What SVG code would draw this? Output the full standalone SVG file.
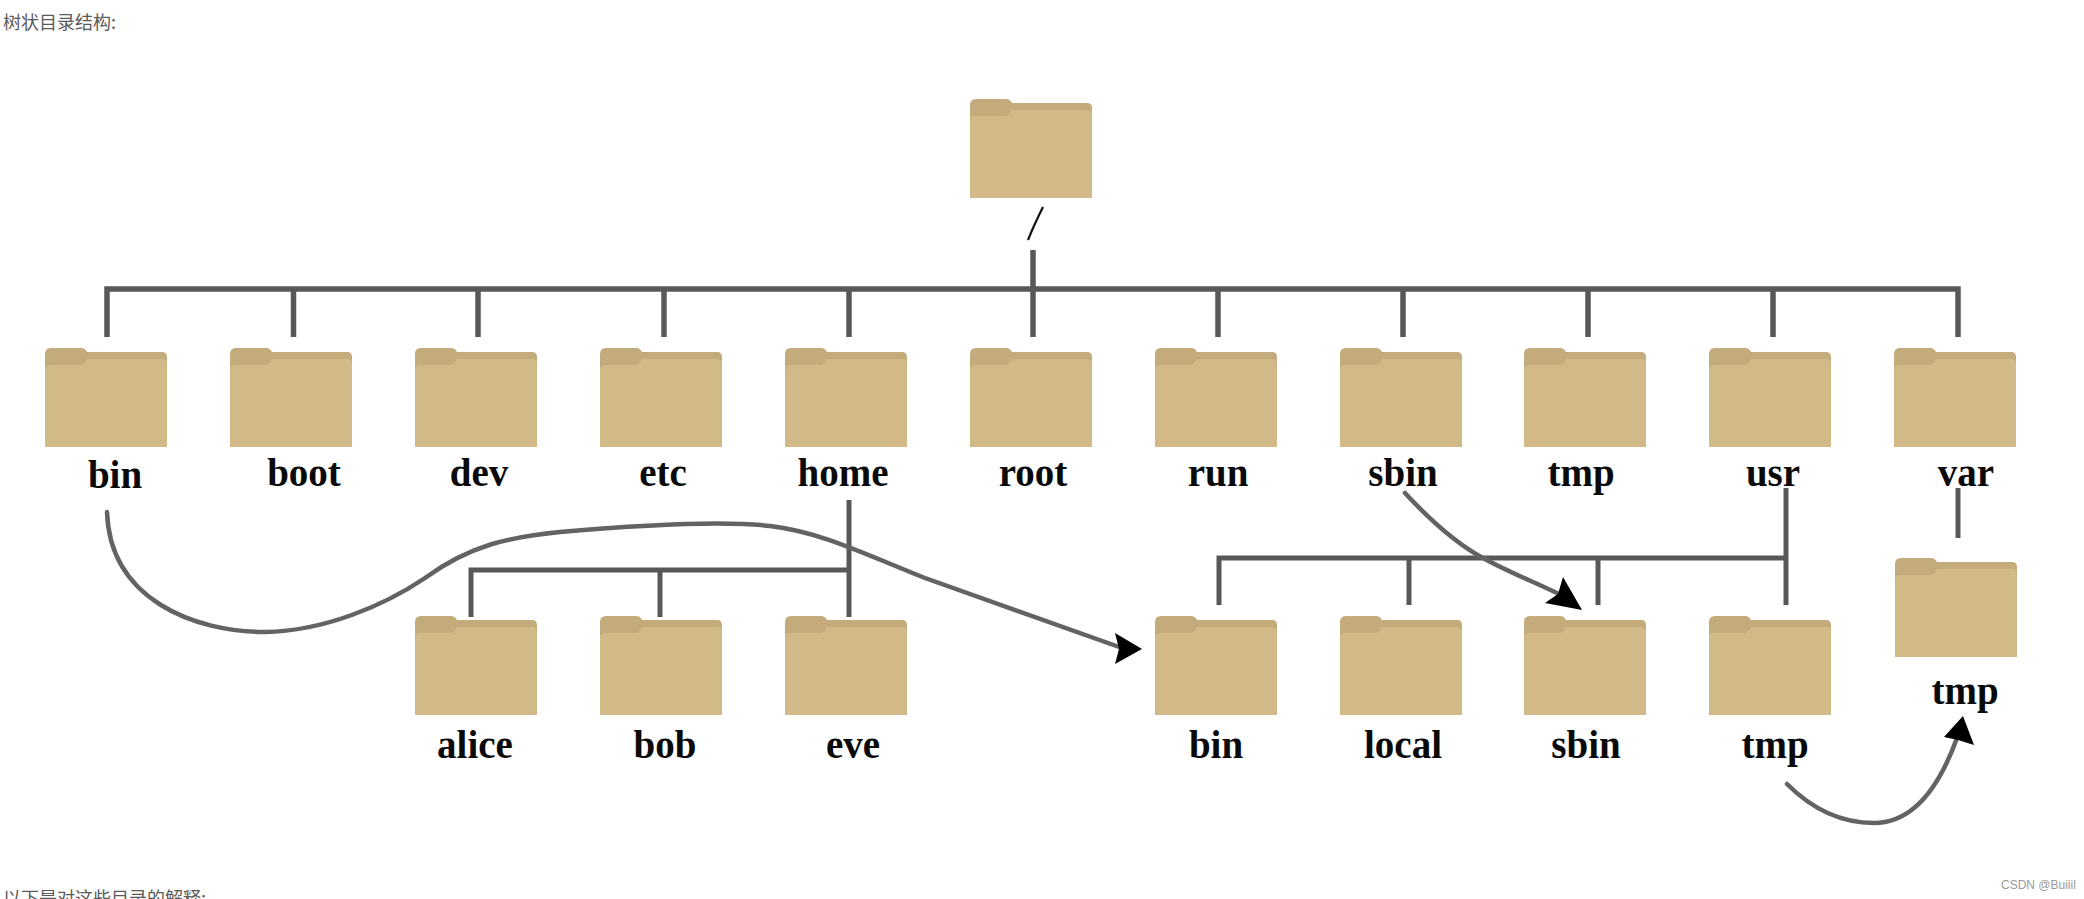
<svg xmlns="http://www.w3.org/2000/svg" xmlns:xlink="http://www.w3.org/1999/xlink" width="2084" height="899" viewBox="0 0 2084 899">
<style>
.lbl{font-family:"Liberation Serif","Times New Roman",serif;font-weight:bold;font-size:39px;fill:#0a0a0a;text-anchor:middle}
.cap{font-family:"Noto Sans CJK SC","Liberation Sans",sans-serif;font-size:18px;fill:#5a5a5a}
.tree{fill:none;stroke:#58585a;stroke-width:5.500}
.thin{fill:none;stroke:#58585a;stroke-width:5}
.curve{fill:none;stroke:#636363;stroke-width:4.500;stroke-linecap:round}
.head{fill:#000}
</style>
<defs>
<g id="folder">
<path d="M0 99V6Q0 0 6 0H36Q40 0 42 4H117Q122 4 122 9V99Z" fill="#c3ab7b"/>
<path d="M0 99V22Q0 17 6 17H35Q39 17 42 11H116Q122 11 122 16V99Z" fill="#d1ba88"/>
</g>
</defs>
<rect width="2084" height="899" fill="#fff"/>
<text class="cap" x="3" y="29">树状目录结构:</text>
<text class="cap" x="3" y="905">以下是对这些目录的解释:</text>
<text x="2001" y="889" font-family="'Liberation Sans',sans-serif" font-size="12" fill="#9a9a9a">CSDN @Buiiil</text>

<g id="connectors">
<path class="tree" d="M107 337V289H1958V337M293.500 289V337M478 289V337M664 289V337M849 289V337M1033 250V337M1218 289V337M1403 289V337M1588 289V337M1773 289V337"/>
<path class="thin" d="M849 500V617M660 570V617M471 617V570H849"/>
<path class="thin" d="M1786 488V605M1409 558V605M1598 558V605M1219 605V558H1786"/>
<path class="thin" d="M1958 488V538"/>
<path class="curve" d="M107 512C110 600 195 632 265 632C325 631 385 605 425 578C470 545 510 537 560 532C640 525 720 520 770 526C820 532 860 552 925 578L1122 648"/>
<path class="head" d="M1142 649L1115 633L1119 649L1115 664Z"/>
<path class="curve" d="M1405 493C1430 520 1455 543 1483 558C1510 573 1535 582 1563 596"/>
<path class="head" d="M1582 610L1563 577L1558 594L1545 603Z"/>
<path class="curve" d="M1787 784C1815 812 1845 823 1874 823C1915 823 1940 785 1957 738"/>
<path class="head" d="M1963 716L1944 737L1958 740L1974 745Z"/>
</g>

<g id="n-root"><use href="#folder" x="970" y="99"/><path d="M1043 207Q1034 225 1028 240" fill="none" stroke="#111" stroke-width="2.200"/></g>
<g id="n-bin"><use href="#folder" x="45" y="348"/><text class="lbl" x="115" y="488">bin</text></g>
<g id="n-boot"><use href="#folder" x="230" y="348"/><text class="lbl" x="304" y="486">boot</text></g>
<g id="n-dev"><use href="#folder" x="415" y="348"/><text class="lbl" x="479" y="486">dev</text></g>
<g id="n-etc"><use href="#folder" x="600" y="348"/><text class="lbl" x="663" y="486">etc</text></g>
<g id="n-home"><use href="#folder" x="785" y="348"/><text class="lbl" x="843" y="486">home</text></g>
<g id="n-rootdir"><use href="#folder" x="970" y="348"/><text class="lbl" x="1033" y="486">root</text></g>
<g id="n-run"><use href="#folder" x="1155" y="348"/><text class="lbl" x="1218" y="486">run</text></g>
<g id="n-sbin"><use href="#folder" x="1340" y="348"/><text class="lbl" x="1403" y="486">sbin</text></g>
<g id="n-tmp"><use href="#folder" x="1524" y="348"/><text class="lbl" x="1581" y="486">tmp</text></g>
<g id="n-usr"><use href="#folder" x="1709" y="348"/><text class="lbl" x="1773" y="486">usr</text></g>
<g id="n-var"><use href="#folder" x="1894" y="348"/><text class="lbl" x="1966" y="486">var</text></g>
<g id="n-alice"><use href="#folder" x="415" y="616"/><text class="lbl" x="475" y="758">alice</text></g>
<g id="n-bob"><use href="#folder" x="600" y="616"/><text class="lbl" x="665" y="758">bob</text></g>
<g id="n-eve"><use href="#folder" x="785" y="616"/><text class="lbl" x="853" y="758">eve</text></g>
<g id="n-usr-bin"><use href="#folder" x="1155" y="616"/><text class="lbl" x="1216" y="758">bin</text></g>
<g id="n-usr-local"><use href="#folder" x="1340" y="616"/><text class="lbl" x="1403" y="758">local</text></g>
<g id="n-usr-sbin"><use href="#folder" x="1524" y="616"/><text class="lbl" x="1586" y="758">sbin</text></g>
<g id="n-usr-tmp"><use href="#folder" x="1709" y="616"/><text class="lbl" x="1775" y="758">tmp</text></g>
<g id="n-var-tmp"><use href="#folder" x="1895" y="558"/><text class="lbl" x="1965" y="704">tmp</text></g>
</svg>
